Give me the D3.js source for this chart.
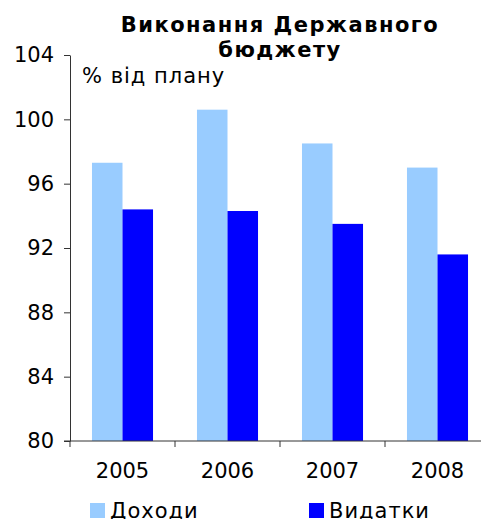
<!DOCTYPE html>
<html>
<head>
<meta charset="utf-8">
<script src="https://cdn.jsdelivr.net/npm/d3@7"></script>
<style>
  html, body { margin: 0; padding: 0; background: #fff; }
  svg { display: block; }
  text { font-family: "DejaVu Sans", Verdana, sans-serif; fill: #000; }
</style>
</head>
<body>
<svg id="chart" width="481" height="519"></svg>
<script>
const years = ["2005", "2006", "2007", "2008"];
const seriesNames = ["Доходи", "Видатки"];
const revenues = [97.3, 100.6, 98.5, 97.0];
const expenditures = [94.4, 94.3, 93.5, 91.6];
const yTicks = [80, 84, 88, 92, 96, 100, 104];
const colors = ["#99CCFF", "#0000FF"];
const titleLines = ["Виконання Державного", "бюджету"];
const unitLabel = "% від плану";

const rows = years.map((y, i) => ({ year: y, values: [revenues[i], expenditures[i]] }));

const svg = d3.select("#chart");
const x0 = d3.scaleBand().domain(years).range([70, 490]).padding(0);
const x1 = d3.scaleBand().domain(seriesNames).range([0, x0.bandwidth()]).paddingInner(0).paddingOuter(0.72);
const y = d3.scaleLinear().domain([80, 104]).range([441, 55]);

// bars
const g = svg.append("g");
g.selectAll("g.grp").data(rows).join("g")
  .attr("class", "grp")
  .attr("transform", d => `translate(${x0(d.year)},0)`)
  .selectAll("rect")
  .data(d => d.values.map((v, i) => ({ name: seriesNames[i], v, i })))
  .join("rect")
  .attr("x", d => x1(d.name))
  .attr("width", x1.bandwidth())
  .attr("y", d => y(d.v))
  .attr("height", d => y(80) - y(d.v))
  .attr("fill", d => colors[d.i]);

// y axis
const yAxis = svg.append("g")
  .attr("transform", "translate(70,0)")
  .call(d3.axisLeft(y).tickValues(yTicks).tickSize(6).tickSizeOuter(0).tickPadding(10).tickFormat(d3.format("d")));
yAxis.selectAll("text").style("font-size", "21px");
yAxis.selectAll("path, line").attr("stroke", "#333");

// x axis labels
const xAxis = svg.append("g")
  .attr("transform", "translate(0,441)")
  .call(d3.axisBottom(x0).tickSize(0).tickPadding(22));
xAxis.selectAll("text").style("font-size", "21px");
xAxis.select("path").remove();
// x axis line and boundary ticks
const xg = svg.append("g");
xg.append("line").attr("x1", 64).attr("x2", x0.range()[1]).attr("y1", 441).attr("y2", 441).attr("stroke", "#333");
const bounds = years.map(d => x0(d)).concat([x0.range()[1]]);
xg.selectAll("line.bt").data(bounds).join("line").attr("class", "bt")
  .attr("x1", d => d).attr("x2", d => d).attr("y1", 441).attr("y2", 447).attr("stroke", "#333");

// title
svg.append("g").selectAll("text").data(titleLines).join("text")
  .attr("x", 280).attr("y", (d, i) => 32 + i * 25)
  .attr("text-anchor", "middle")
  .style("font-size", "21px").style("font-weight", "bold").style("letter-spacing", "1.5px")
  .text(d => d);

// unit label
svg.append("text").attr("x", 82).attr("y", 83).style("font-size", "21px").style("letter-spacing", "1px").text(unitLabel);

// legend
const legendX = [90, 309];
const lg = svg.append("g").selectAll("g").data(seriesNames).join("g")
  .attr("transform", (d, i) => `translate(${legendX[i]},503)`);
lg.append("rect").attr("width", 15).attr("height", 15).attr("fill", (d, i) => colors[i]);
lg.append("text").attr("x", 20).attr("y", 15).style("font-size", "21px").style("letter-spacing", "1px").text(d => d);
</script>
</body>
</html>
